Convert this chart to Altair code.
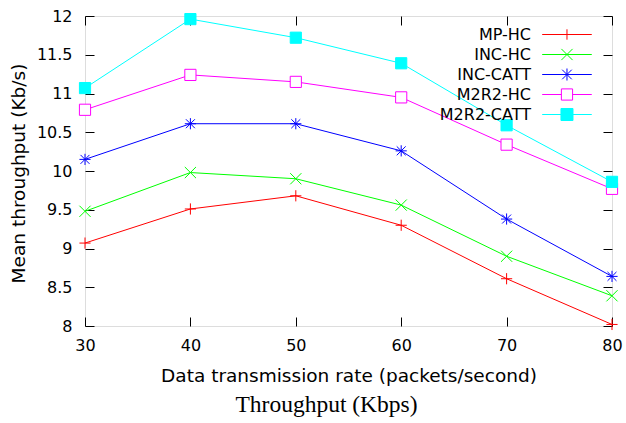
import altair as alt
import pandas as pd

# Data transmission rate (packets/second)
rates = [30, 40, 50, 60, 70, 80]

# Mean throughput (Kb/s) per scheme
series_names = ["MP-HC", "INC-HC", "INC-CATT", "M2R2-HC", "M2R2-CATT"]
mp_hc = [9.07, 9.51, 9.68, 9.30, 8.61, 8.02]
inc_hc = [9.48, 9.98, 9.90, 9.56, 8.90, 8.39]
inc_catt = [10.15, 10.61, 10.61, 10.26, 9.38, 8.64]
m2r2_hc = [10.79, 11.24, 11.15, 10.95, 10.34, 9.77]
m2r2_catt = [11.07, 11.96, 11.72, 11.39, 10.59, 9.86]

series_colors = ["#ff0000", "#00ff00", "#0000ff", "#ff00ff", "#00ffff"]
series_fills = ["#ffffff", "#ffffff", "#ffffff", "#ffffff", "#00ffff"]

# point markers: plus, cross, asterisk, open square, filled square
marker_paths = [
    "M-1,0L1,0M0,-1L0,1",
    "M-1,-1L1,1M-1,1L1,-1",
    "M-1,0L1,0M0,-1L0,1M-0.8,-0.8L0.8,0.8M-0.8,0.8L0.8,-0.8",
    "M-1,-1L1,-1L1,1L-1,1Z",
    "M-1,-1L1,-1L1,1L-1,1Z",
]
# legend keys (unit = 8 px): a 50 px line with the marker in its middle,
# drawn to the right of the label
key_paths = [
    "M2.46,0L8.66,0M5.56,-0.65L5.56,0.65",
    "M2.46,0L8.66,0M4.86,-0.7L6.26,0.7M4.86,0.7L6.26,-0.7",
    "M2.46,0L8.66,0M5.56,-0.75L5.56,0.75M4.96,-0.6L6.16,0.6M4.96,0.6L6.16,-0.6",
    "M2.46,0L4.86,0M6.26,0L8.66,0M4.86,-0.7L6.26,-0.7L6.26,0.7L4.86,0.7Z",
    "M2.46,0L8.66,0M4.81,-0.75L6.31,-0.75L6.31,0.75L4.81,0.75Z",
]

rows = []
for name, vals in zip(series_names, [mp_hc, inc_hc, inc_catt, m2r2_hc, m2r2_catt]):
    for r, v in zip(rates, vals):
        rows.append({"scheme": name, "rate": r, "throughput": v})
df = pd.DataFrame(rows)

W, H = 527, 310
FONT = "DejaVu Sans"

x_scale = alt.Scale(domain=[30, 80], nice=False, zero=False)
y_scale = alt.Scale(domain=[8, 12], nice=False, zero=False)
x_ticks = [30, 40, 50, 60, 70, 80]
y_ticks = [8, 8.5, 9, 9.5, 10, 10.5, 11, 11.5, 12]


def color_scale():
    return alt.Scale(domain=series_names, range=series_colors)


def fill_scale():
    return alt.Scale(domain=series_names, range=series_fills)


def key_legend():
    # one definition shared by stroke, fill and shape so they merge into a single key
    return alt.Legend(orient="none", legendX=429, legendY=10, title=None,
                      symbolSize=256, symbolStrokeWidth=1, symbolOpacity=1,
                      symbolFillColor="white", symbolOffset=0,
                      labelAlign="right", labelOffset=0,
                      labelFont=FONT, labelFontSize=16, labelColor="black",
                      rowPadding=3, padding=0)


base = alt.Chart(df)

# lines with the labelled axes (bottom / left)
lines = base.mark_line(strokeWidth=1).encode(
    x=alt.X("rate:Q", scale=x_scale,
            axis=alt.Axis(values=x_ticks, format="d", ticks=False, domain=False, grid=False,
                          labelFont=FONT, labelFontSize=16, labelColor="black", labelPadding=11,
                          labelFlush=False,
                          title="Data transmission rate (packets/second)", titleFont=FONT,
                          titleFontSize=18.5, titleFontWeight="normal", titleColor="black",
                          titleBaseline="middle", titleY=49)),
    y=alt.Y("throughput:Q", scale=y_scale,
            axis=alt.Axis(values=y_ticks, format="~g", ticks=False, domain=False, grid=False,
                          labelFont=FONT, labelFontSize=16, labelColor="black", labelPadding=13,
                          labelFlush=False,
                          title="Mean throughput (Kb/s)", titleFont=FONT,
                          titleFontSize=18.5, titleFontWeight="normal", titleColor="black",
                          titleAngle=270, titleBaseline="middle", titleAlign="center",
                          titleX=-67, titleY=157)),
    color=alt.Color("scheme:N", scale=color_scale(), legend=None),
    detail="scheme:N",
)

# markers; their axes give the inward ticks on the bottom and left edges
points = base.mark_point(filled=False, size=125, strokeWidth=1, opacity=1).encode(
    x=alt.X("rate:Q", scale=x_scale,
            axis=alt.Axis(orient="top", offset=-H, values=x_ticks, labels=False, domain=False,
                          grid=False, ticks=True, tickSize=9, tickColor="black", tickWidth=1,
                          title=None)),
    y=alt.Y("throughput:Q", scale=y_scale,
            axis=alt.Axis(orient="right", offset=-W, values=y_ticks, labels=False, domain=False,
                          grid=False, ticks=True, tickSize=9, tickColor="black", tickWidth=1,
                          title=None)),
    color=alt.Color("scheme:N", scale=color_scale(), legend=None),
    fill=alt.Fill("scheme:N", scale=fill_scale(), legend=None),
    shape=alt.Shape("scheme:N", scale=alt.Scale(domain=series_names, range=marker_paths),
                    legend=None),
)

# empty layer that carries the key and the inward ticks on the top and right edges
key = base.transform_filter("datum.throughput < 0").mark_point(filled=False, strokeWidth=1).encode(
    x=alt.X("rate:Q", scale=x_scale,
            axis=alt.Axis(orient="bottom", offset=-H, values=x_ticks, labels=False, domain=False,
                          grid=False, ticks=True, tickSize=9, tickColor="black", tickWidth=1,
                          title=None)),
    y=alt.Y("throughput:Q", scale=y_scale,
            axis=alt.Axis(orient="left", offset=-W, values=y_ticks, labels=False, domain=False,
                          grid=False, ticks=True, tickSize=9, tickColor="black", tickWidth=1,
                          title=None)),
    color=alt.Color("scheme:N", scale=color_scale(), legend=key_legend()),
    fill=alt.Fill("scheme:N", scale=fill_scale(), legend=key_legend()),
    shape=alt.Shape("scheme:N", scale=alt.Scale(domain=series_names, range=key_paths),
                    legend=key_legend()),
)

chart = (
    alt.layer(lines, points, key)
    .resolve_scale(shape="independent", color="independent", fill="independent")
    .resolve_axis(x="independent", y="independent")
    .properties(
        width=W,
        height=H,
        autosize=alt.AutoSizeParams(type="none"),
        padding={"left": 85, "top": 16, "right": 14, "bottom": 97},
        title=alt.TitleParams("Throughput (Kbps)", orient="bottom", anchor="middle",
                              font="Liberation Serif", fontSize=23.5, fontWeight="normal",
                              color="black", offset=8, dx=-22),
    )
    .configure_view(stroke="black", strokeWidth=1.5)
    .configure(background="white")
)

chart.save("out.html", embed_options={"renderer": "svg", "actions": False})
